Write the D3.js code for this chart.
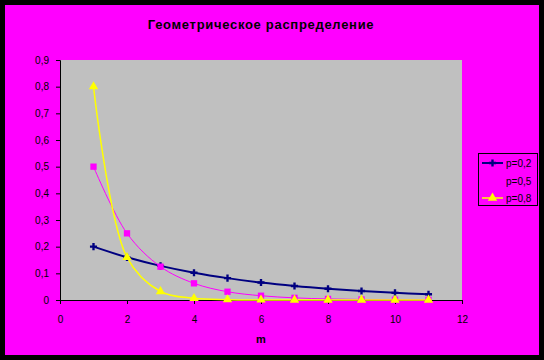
<!DOCTYPE html>
<html><head><meta charset="utf-8">
<script src="https://cdn.jsdelivr.net/npm/d3@7"></script>
<style>body{margin:0;background:#000}svg{display:block}text{font-family:Arial,"Liberation Sans",sans-serif}</style>
</head><body>
<svg id="c" width="544" height="360"></svg>
<script>
const title = "Геометрическое распределение";
const xLabel = "m";
const mValues = [1,2,3,4,5,6,7,8,9,10,11];
const seriesNames = ["p=0,2","p=0,5","p=0,8"];
const p02 = [0.2,0.16,0.128,0.1024,0.082,0.0655,0.0524,0.042,0.0336,0.0268,0.0215];
const p05 = [0.5,0.25,0.125,0.0625,0.031,0.016,0.008,0.004,0.002,0.001,0.0005];
const p08 = [0.8,0.16,0.032,0.0064,0.0013,0.0003,0.0001,0,0,0,0];
const xTicks = [0,2,4,6,8,10,12];
const yTicks = [0,0.1,0.2,0.3,0.4,0.5,0.6,0.7,0.8,0.9];

const colors = ["#000080","#FF00FF","#FFFF00"];
const widths = [2,1,1.5];
const shapes = [d3.symbolCross, d3.symbolSquare, d3.symbolTriangle];
const sizes = [28, 40, 38];
const allSeries = [p02,p05,p08];

const svg = d3.select("#c");
svg.append("rect").attr("x",0).attr("y",0).attr("width",544).attr("height",360).attr("fill","#000");
svg.append("rect").attr("x",5).attr("y",5).attr("width",534).attr("height",350).attr("fill","#FF00FF");

const L=60,R=462,T=60,B=300;
const x = d3.scaleLinear().domain([0,12]).range([L,R]);
const y = d3.scaleLinear().domain([0,0.9]).range([B,T]);

svg.append("rect").attr("x",L).attr("y",T).attr("width",R-L).attr("height",B-T).attr("fill","#C0C0C0");

svg.append("text").attr("x",261).attr("y",29).attr("text-anchor","middle")
  .attr("font-size",13).attr("font-weight","bold").attr("letter-spacing",0.7).text(title);

const fmt = d => d3.format(".1~f")(d).replace(".",",");
const yAxis = svg.append("g").attr("transform",`translate(${L},0)`)
  .call(d3.axisLeft(y).tickValues(yTicks).tickFormat(d=>d===0?"0":fmt(d)).tickSize(4).tickPadding(7));
const xAxis = svg.append("g").attr("transform",`translate(0,${B})`)
  .call(d3.axisBottom(x).tickValues(xTicks).tickFormat(d3.format("d")).tickSize(4).tickPadding(12));
[yAxis,xAxis].forEach(g=>{
  g.select(".domain").attr("stroke","#000").attr("stroke-width",1);
  g.selectAll(".tick line").attr("stroke","#000");
  g.selectAll("text").attr("font-size",10).attr("fill","#000").attr("font-family","Arial, sans-serif");
});

svg.append("text").attr("x",261).attr("y",343).attr("text-anchor","middle")
  .attr("font-size",11).attr("font-weight","bold").text(xLabel);

const line = d3.line().x((d,i)=>x(mValues[i])).y(d=>y(d)).curve(d3.curveCatmullRom.alpha(0.5));
const plot = svg.append("g");
allSeries.forEach((s,k)=>{
  plot.append("path").attr("d",line(s)).attr("fill","none").attr("stroke",colors[k]).attr("stroke-width",widths[k]);
});
allSeries.forEach((s,k)=>{
  plot.selectAll(null).data(s).enter().append("path")
    .attr("d",d3.symbol().type(shapes[k]).size(sizes[k]))
    .attr("transform",(d,i)=>`translate(${x(mValues[i])},${y(d)})`)
    .attr("fill",colors[k]);
});

// legend
const lg = svg.append("g");
lg.append("rect").attr("x",478.5).attr("y",153.5).attr("width",59).attr("height",52)
  .attr("fill","none").attr("stroke","#000").attr("stroke-width",1);
const rowY = [163,181,198];
seriesNames.forEach((n,k)=>{
  lg.append("line").attr("x1",482).attr("x2",503).attr("y1",rowY[k]).attr("y2",rowY[k])
    .attr("stroke",colors[k]).attr("stroke-width",widths[k]);
  lg.append("path").attr("d",d3.symbol().type(shapes[k]).size(sizes[k]))
    .attr("transform",`translate(492.5,${rowY[k]})`).attr("fill",colors[k]);
  lg.append("text").attr("x",506).attr("y",rowY[k]+3.5).attr("font-size",10).attr("fill","#000").text(n);
});
</script>
</body></html>
